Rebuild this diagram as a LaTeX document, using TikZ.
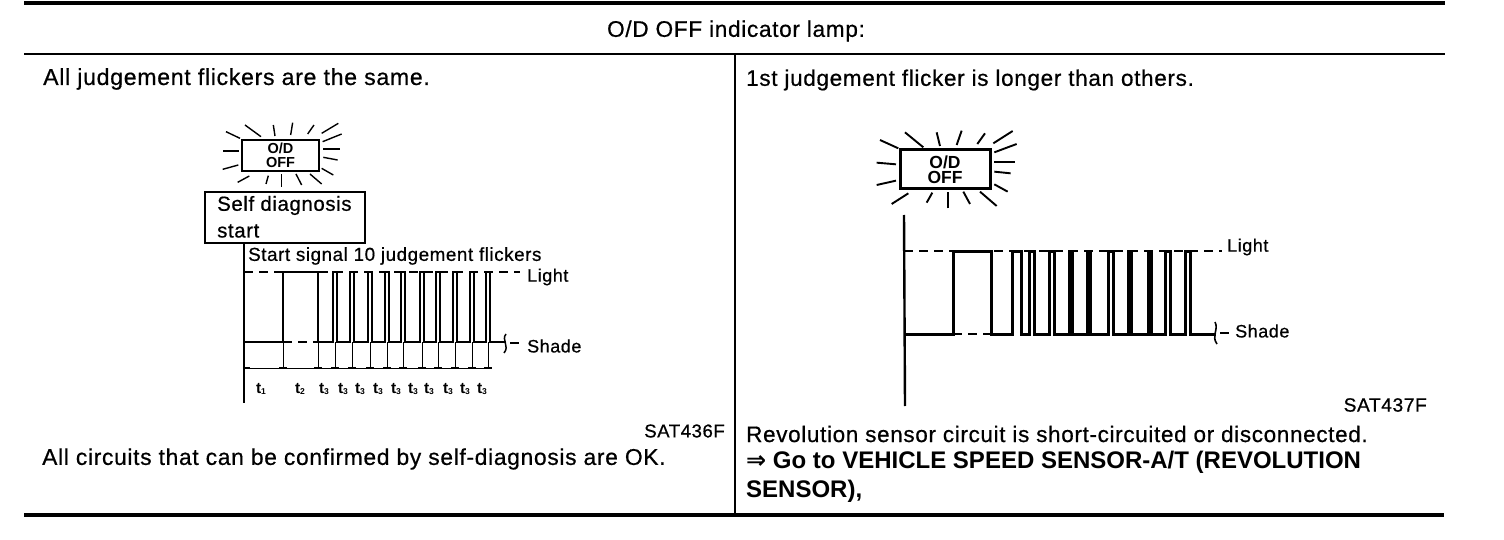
\documentclass[tikz,border=0pt]{standalone}
\usepackage{fontspec}
\setmainfont{Liberation Sans}
\newfontfamily\scanf[FakeBold=0.6,LetterSpace=3]{Liberation Sans}
\newfontfamily\symf{DejaVu Sans}
\tikzset{
  heavy/.style={line width=4pt},
  rule/.style={line width=2pt},
  axisline/.style={line width=2pt},
  wave/.style={line width=2.6pt,line join=miter},
  guide/.style={line width=1.3pt,dash pattern=on 9pt off 6pt},
  thinline/.style={line width=0.9pt},
  lampbox/.style={line width=2.4pt},
  ray/.style={line width=1.4pt},
  bigray/.style={line width=1.9pt},
  txt/.style={anchor=west,inner sep=0pt,font=\scanf\fontsize{22.6}{24}\selectfont},
  txtb/.style={anchor=west,inner sep=0pt,font=\fontsize{24}{24}\selectfont\bfseries},
  small/.style={anchor=west,inner sep=0pt,font=\scanf\fontsize{18}{20}\selectfont},
  selfl/.style={anchor=west,inner sep=0pt,font=\scanf\fontsize{20.4}{20}\selectfont},
  code/.style={anchor=east,inner sep=0pt,font=\scanf\fontsize{18.6}{20}\selectfont},
  tlabel/.style={inner sep=0pt,font=\fontsize{15.5}{14}\selectfont\bfseries},
}
\begin{document}
\begin{tikzpicture}[x=1pt,y=-1pt]
\useasboundingbox (0,0) rectangle (1504,540);
% table
\draw[heavy] (24,3) -- (1445,3);
\draw[rule] (24,54) -- (1445,54);
\draw[rule] (735,54) -- (735,515);
\draw[heavy] (24,515) -- (1444,515);
% texts
\node[txt,anchor=center] (title) at (736,31) {O/D OFF indicator lamp:};
\node[txt,font=\scanf\fontsize{23.1}{24}\selectfont] (la) at (43,79) {All judgement flickers are the same.};
\node[txt,font=\scanf\fontsize{22.5}{24}\selectfont] (ra) at (746,80) {1st judgement flicker is longer than others.};
\node[code] (c1) at (725,431) {SAT436F};
\node[code,font=\scanf\fontsize{19.2}{20}\selectfont] (c2) at (1427,405) {SAT437F};
\node[txt,font=\scanf\fontsize{22.8}{24}\selectfont] (lb) at (42,459) {All circuits that can be confirmed by self-diagnosis are OK.};
\node[txt,font=\scanf\fontsize{22.45}{24}\selectfont] (rb) at (746,434) {Revolution sensor circuit is short-circuited or disconnected.};
\node[txtb] (rc) at (746,462) {{\symf ⇒} Go to VEHICLE SPEED SENSOR-A/T (REVOLUTION};
\node[txtb] (rd) at (746,491) {SENSOR),};
% left lamp
\node[draw,lampbox,minimum width=77pt,minimum height=31pt,inner sep=0pt,align=center,
  font=\fontsize{14.5}{14}\selectfont\bfseries] (lampL) at (280.5,155.5) {O/D\\OFF};
\begin{scope}[shift={(190,110)},x=0.3333pt,y=-0.3333pt]
\foreach \a/\b/\c/\d in {165/45/213/80,250/45/255/78,308/38/302/75,372/45/353/72,445/40/395/70,
 455/72/398/95,450/117/400/117,443/150/400/142,430/195/395/175,395/222/360/192,335/225/318/192,
 275/230/275/192,228/222/235/197,143/217/178/198,98/178/145/165,100/123/147/123,108/65/150/85}
  \draw[ray] (\a,\b) -- (\c,\d);
\end{scope}
% self diagnosis box
\node[draw,line width=1.8pt,minimum width=160pt,minimum height=51pt,inner sep=0pt] (self) at (285,217.5) {};
\node[selfl] (s1) at (217,205.5) {Self diagnosis};
\node[selfl] (s2) at (217,231) {start};
\node[small,font=\scanf\fontsize{18.8}{20}\selectfont] (start) at (248,256) {Start signal 10 judgement flickers};
% left chart
\coordinate (lTop) at (244,243);
\coordinate (lBot) at (244,403);
\draw[axisline] (lTop) -- (lBot);
\draw[guide] (244,272) -- (520,272);
\draw[guide] (283,342) -- (318,342);
\draw[thinline] (244,368) -- (488,368);
\foreach \x in {283,318,335,352,370,387,403,422,438,455,472,488}{
  \draw[thinline] (\x,342) -- (\x,368);
  \draw[line width=2pt] (\x-4,368) -- (\x+4,368);
}
\draw[line width=2pt] (244,368) -- (250,368);
\draw[wave] (244,342) -- (283,342) -- (283,272) -- (318,272) -- (318,342)
 \foreach \x in {335,352,370,387,403,422,438,455,472,488}{ -- (\x-2,342) -- (\x-2,272) -- (\x+2,272) -- (\x+2,342)} -- (505,342);
\draw[line width=1.5pt] (506,334) .. controls (501,340) and (510,346) .. (504,353);
\draw[guide] (510,343) -- (520,343);
\node[small] (lightL) at (527,277) {Light};
\node[small] (shadeL) at (527,346) {Shade};
\foreach \x/\n in {261/1,300/2,324/3,343/3,360/3,378/3,396/3,413/3,429/3,448/3,465/3,482/3}
  \node[tlabel] at (\x,389) {t\raisebox{-1pt}{\fontsize{8.5}{8}\selectfont\n}};
% right lamp
\node[draw,line width=3pt,minimum width=90pt,minimum height=39pt,inner sep=0pt,align=center,
  font=\fontsize{17.5}{15.5}\selectfont\bfseries] (lampR) at (945,169.5) {O/D\\OFF};
\begin{scope}[shift={(860,120)},x=0.3333pt,y=-0.3333pt]
\foreach \a/\b/\c/\d in {135/37/190/82,230/37/240/78,305/32/290/75,375/40/352/72,458/33/400/70,
 470/72/403/97,465/125/403/125,452/160/403/155,443/215/403/193,410/258/360/215,330/252/310/215,
 263/265/263/215,217/218/200/248,145/220/95/252,108/182/50/195,108/133/50/128,115/85/60/60}
  \draw[bigray] (\a,\b) -- (\c,\d);
\end{scope}
% right chart
\coordinate (rTop) at (904,215);
\coordinate (rBot) at (905,406);
\draw[line width=2.4pt] (rTop) -- (rBot);
\draw[guide] (904,251) -- (1222,251);
\draw[guide] (953,334) -- (1005,334);
\draw[wave,line width=3pt] (904,334) -- (953,334) -- (953,251) -- (991,251) -- (991,334) -- (1012,334) -- (1012,251) -- (1021,251) -- (1021,334)
 \foreach \x/\w in {1032/2.5,1052/2.2,1071/1.8,1089/1.8,1111/2.2,1130/1.8,1150/1.8,1168/2.2,1188/2.2}{ -- (\x-\w,334) -- (\x-\w,251) -- (\x+\w,251) -- (\x+\w,334)} -- (1216,334);
\draw[line width=1.6pt] (1215,322) .. controls (1219,330) and (1211,336) .. (1217,344);
\draw[guide] (1220,333) -- (1232,333);
\node[small] (lightR) at (1227,247) {Light};
\node[small] (shadeR) at (1235,331) {Shade};
\end{tikzpicture}
\end{document}
